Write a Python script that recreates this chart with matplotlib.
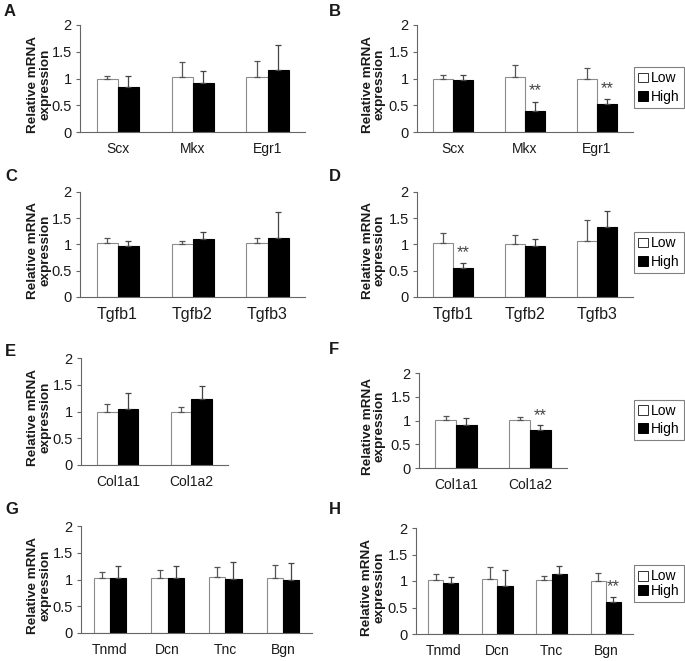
import matplotlib
matplotlib.use('Agg')
import matplotlib.pyplot as plt
from matplotlib.patches import Patch
import numpy as np

plt.rcParams['font.family'] = ['Liberation Sans', 'DejaVu Sans']

# ---- data ----
genes_A = ['Scx', 'Mkx', 'Egr1']
low_A, low_err_A = [1.00, 1.02, 1.02], [0.05, 0.28, 0.31]
high_A, high_err_A = [0.84, 0.92, 1.16], [0.21, 0.22, 0.46]

genes_B = ['Scx', 'Mkx', 'Egr1']
low_B, low_err_B = [1.00, 1.02, 1.00], [0.06, 0.23, 0.20]
high_B, high_err_B = [0.98, 0.39, 0.53], [0.08, 0.18, 0.09]
stars_B = [False, True, True]

genes_C = ['Tgfb1', 'Tgfb2', 'Tgfb3']
low_C, low_err_C = [1.02, 1.00, 1.02], [0.10, 0.07, 0.10]
high_C, high_err_C = [0.98, 1.11, 1.12], [0.09, 0.12, 0.50]

genes_D = ['Tgfb1', 'Tgfb2', 'Tgfb3']
low_D, low_err_D = [1.03, 1.01, 1.06], [0.18, 0.18, 0.40]
high_D, high_err_D = [0.56, 0.98, 1.33], [0.09, 0.12, 0.31]
stars_D = [True, False, False]

genes_E = ['Col1a1', 'Col1a2']
low_E, low_err_E = [1.00, 1.00], [0.14, 0.08]
high_E, high_err_E = [1.04, 1.24], [0.30, 0.23]

genes_F = ['Col1a1', 'Col1a2']
low_F, low_err_F = [1.01, 1.02], [0.09, 0.06]
high_F, high_err_F = [0.90, 0.80], [0.16, 0.11]
stars_F = [False, True]

genes_G = ['Tnmd', 'Dcn', 'Tnc', 'Bgn']
low_G, low_err_G = [1.02, 1.03, 1.05, 1.02], [0.12, 0.15, 0.18, 0.26]
high_G, high_err_G = [1.02, 1.02, 1.01, 0.99], [0.23, 0.23, 0.32, 0.31]

genes_H = ['Tnmd', 'Dcn', 'Tnc', 'Bgn']
low_H, low_err_H = [1.02, 1.03, 1.01, 1.00], [0.12, 0.24, 0.08, 0.15]
high_H, high_err_H = [0.97, 0.90, 1.14, 0.60], [0.10, 0.31, 0.14, 0.10]
stars_H = [False, False, False, True]

W, H = 685, 661
fig = plt.figure(figsize=(W / 100, H / 100), dpi=100)


def px_axes(x0, y0, x1, y1):
    return fig.add_axes([x0 / W, 1 - y1 / H, (x1 - x0) / W, (y1 - y0) / H])


def panel(box, letter, letter_xy, genes, low, low_err, high, high_err,
          stars=None, legend_box=None, leg_spacing=0.3, label_x=39, gene_size=10):
    ax = px_axes(*box)
    n = len(genes)
    x = np.arange(n) + 0.5
    bw = 0.28
    ax.bar(x - bw / 2, low, bw, color='white', edgecolor='#8c8c8c', lw=0.8, zorder=2)
    ax.bar(x + bw / 2, high, bw, color='black', edgecolor='black', lw=0.8, zorder=2)
    ax.errorbar(x - bw / 2, low, yerr=[np.zeros(n), low_err], fmt='none',
                ecolor='#555555', elinewidth=0.9, capsize=2, capthick=0.9, zorder=3)
    ax.errorbar(x + bw / 2, high, yerr=[np.zeros(n), high_err], fmt='none',
                ecolor='#444444', elinewidth=0.9, capsize=2, capthick=0.9, zorder=3)
    if stars is not None:
        for xi, s, h, e in zip(x, stars, high, high_err):
            if s:
                ax.text(xi + bw / 2, h + e + 0.2, '**', ha='center', va='center',
                        fontsize=12, color='#444444')
    ax.set_xlim(0, n)
    ax.set_ylim(0, 2)
    ax.set_yticks([0, 0.5, 1, 1.5, 2])
    ax.set_yticklabels(['0', '0.5', '1', '1.5', '2'])
    ax.set_xticks(x)
    ax.set_xticklabels(genes)
    ax.tick_params(axis='x', length=0, pad=7, labelsize=gene_size, labelcolor='#1a1a1a')
    ax.tick_params(axis='y', length=3, width=0.8, color='#666666', pad=3,
                   labelsize=10.5, labelcolor='#1a1a1a')
    for side in ['top', 'right']:
        ax.spines[side].set_visible(False)
    for side in ['left', 'bottom']:
        ax.spines[side].set_color('#666666')
        ax.spines[side].set_linewidth(0.8)

    cy = (box[1] + box[3]) / 2 + 6
    fig.text(label_x / W, 1 - cy / H, 'Relative mRNA\nexpression', rotation=90,
             ha='center', va='center', fontsize=9.7, fontweight='bold',
             linespacing=1.0, color='#1a1a1a')
    fig.text(letter_xy[0] / W, 1 - letter_xy[1] / H, letter, ha='left', va='center',
             fontsize=12, fontweight='bold', color='#1a1a1a')

    if legend_box is not None:
        lx0, ly0, lx1, ly1 = legend_box
        handles = [Patch(facecolor='white', edgecolor='#333333', lw=0.7),
                   Patch(facecolor='black', edgecolor='black', lw=0.7)]
        leg = fig.legend(handles, ['Low', 'High'], loc='center',
                         bbox_to_anchor=((lx0 + lx1) / 2 / W, 1 - (ly0 + ly1) / 2 / H),
                         fontsize=10, handlelength=0.7, handleheight=0.7,
                         handletextpad=0.25, borderpad=0.3, labelspacing=leg_spacing,
                         fancybox=False, edgecolor='#808080', framealpha=1,
                         borderaxespad=0)
        leg.get_frame().set_linewidth(0.8)
    return ax


panel((80, 25, 305, 132), 'A', (4, 12), genes_A, low_A, low_err_A, high_A, high_err_A)
panel((417, 25, 633, 132), 'B', (329, 12), genes_B, low_B, low_err_B, high_B, high_err_B,
      stars=stars_B, legend_box=(635, 68, 683, 107), label_x=374)
panel((80, 192, 305, 297), 'C', (5, 177), genes_C, low_C, low_err_C, high_C, high_err_C,
      gene_size=11.5)
panel((417, 192, 633, 297), 'D', (329, 177), genes_D, low_D, low_err_D, high_D, high_err_D,
      stars=stars_D, legend_box=(635, 235, 683, 270), label_x=374, gene_size=11.5)
panel((81, 358, 228, 465), 'E', (5, 351), genes_E, low_E, low_err_E, high_E, high_err_E)
panel((419, 373, 567, 468), 'F', (329, 350), genes_F, low_F, low_err_F, high_F, high_err_F,
      stars=stars_F, legend_box=(635, 402, 683, 438), label_x=374)
panel((81, 526, 312, 633), 'G', (5, 509), genes_G, low_G, low_err_G, high_G, high_err_G)
panel((416, 528, 633, 634), 'H', (329, 509), genes_H, low_H, low_err_H, high_H, high_err_H,
      stars=stars_H, legend_box=(635, 570, 683, 597), leg_spacing=0.0, label_x=373)

fig.savefig('out.png', dpi=100)
